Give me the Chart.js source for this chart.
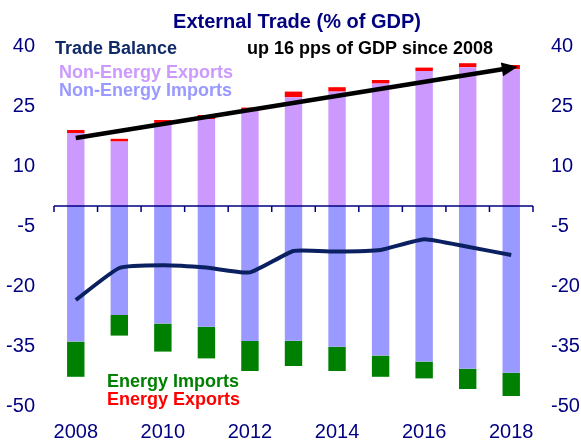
<!DOCTYPE html>
<html><head><meta charset="utf-8">
<script src="https://cdn.jsdelivr.net/npm/chart.js@4/dist/chart.umd.min.js"></script>
<style>html,body{margin:0;padding:0;background:#fff}#wrap{width:581px;height:442px}</style>
</head><body><div id="wrap"><canvas id="c" width="581" height="442"></canvas></div>
<script>
const years = ['2008','2009','2010','2011','2012','2013','2014','2015','2016','2017','2018'];
const labelledYears = ['2008','2010','2012','2014','2016','2018'];
const nonEnergyExports = [18.25, 16.1, 20.5, 21.75, 23.75, 27.2, 28.6, 30.6, 33.75, 34.7, 34.2];
const energyExports    = [0.75, 0.7, 1.0, 1.0, 0.85, 1.4, 1.1, 0.9, 0.85, 1.0, 1.05];
const nonEnergyImports = [-33.9, -27.25, -29.4, -30.2, -33.75, -33.7, -35.2, -37.4, -38.9, -40.7, -41.7];
const energyImports    = [-8.8, -5.15, -7.0, -7.9, -7.5, -6.3, -6.05, -5.3, -4.2, -5.05, -5.8];
const tradeBalance     = [-23.5, -15.5, -14.8, -15.4, -16.6, -11.25, -11.4, -11.0, -8.3, -10.2, -12.25];
const yTicks = [40, 25, 10, -5, -20, -35, -50];
const arrowFrom = [0, 17];
const arrowTo = [10.15, 34.8];

const FONT = '"Liberation Sans", Arial, sans-serif';
const NAVY = '#000080';

const overlay = {
  id: 'overlay',
  afterDatasetsDraw(chart) {
    const ctx = chart.ctx, x = chart.scales.x, y = chart.scales.y, a = chart.chartArea;
    ctx.save();
    // zero axis line with boundary ticks
    const y0 = y.getPixelForValue(0);
    ctx.strokeStyle = NAVY; ctx.lineWidth = 1.5;
    ctx.beginPath(); ctx.moveTo(a.left, y0); ctx.lineTo(a.right, y0); ctx.stroke();
    for (let i = 0; i <= years.length; i++) {
      const px = x.getPixelForValue(i - 0.5);
      ctx.beginPath(); ctx.moveTo(px, y0); ctx.lineTo(px, y0 + 6); ctx.stroke();
    }
    // arrow
    const x1 = x.getPixelForValue(arrowFrom[0]), y1 = y.getPixelForValue(arrowFrom[1]);
    const x2 = x.getPixelForValue(arrowTo[0]), y2 = y.getPixelForValue(arrowTo[1]);
    const ang = Math.atan2(y2 - y1, x2 - x1);
    const hl = 16, hw = 7;
    const bx = x2 - hl * Math.cos(ang), by = y2 - hl * Math.sin(ang);
    ctx.strokeStyle = '#000'; ctx.lineWidth = 4.5; ctx.lineCap = 'butt';
    ctx.beginPath(); ctx.moveTo(x1, y1); ctx.lineTo(bx + 2 * Math.cos(ang), by + 2 * Math.sin(ang)); ctx.stroke();
    ctx.fillStyle = '#000';
    ctx.beginPath();
    ctx.moveTo(x2, y2);
    ctx.lineTo(bx + hw * Math.sin(ang), by - hw * Math.cos(ang));
    ctx.lineTo(bx - hw * Math.sin(ang), by + hw * Math.cos(ang));
    ctx.closePath(); ctx.fill();
    // texts
    ctx.textBaseline = 'alphabetic';
    ctx.textAlign = 'center';
    ctx.font = 'bold 20px ' + FONT; ctx.fillStyle = NAVY;
    ctx.fillText('External Trade (% of GDP)', 297, 28);
    ctx.textAlign = 'left';
    ctx.font = 'bold 18px ' + FONT;
    ctx.fillStyle = '#0f2a66'; ctx.fillText('Trade Balance', 55, 54);
    ctx.fillStyle = '#000'; ctx.fillText('up 16 pps of GDP since 2008', 247, 54);
    ctx.fillStyle = '#CC99FF'; ctx.fillText('Non-Energy Exports', 59, 78);
    ctx.fillStyle = '#9999FF'; ctx.fillText('Non-Energy Imports', 59, 96);
    ctx.fillStyle = '#008000'; ctx.fillText('Energy Imports', 107, 387);
    ctx.fillStyle = '#FF0000'; ctx.fillText('Energy Exports', 107, 405);
    ctx.restore();
  }
};

const yAxisCommon = {
  min: -50, max: 40,
  afterBuildTicks: s => { s.ticks = yTicks.map(v => ({ value: v })); },
  grid: { display: false, drawTicks: false },
  border: { display: false },
  ticks: { color: NAVY, font: { family: FONT, size: 20 } }
};

new Chart(document.getElementById('c'), {
  data: {
    labels: years,
    datasets: [
      { type: 'line', label: 'Trade Balance', data: tradeBalance, borderColor: '#0a2060', borderWidth: 4,
        pointRadius: 0, tension: 0.15, stack: 'tb', order: -1, yAxisID: 'y' },
      { type: 'bar', label: 'Non-Energy Exports', data: nonEnergyExports, backgroundColor: '#CC99FF', stack: 'a', yAxisID: 'y' },
      { type: 'bar', label: 'Non-Energy Imports', data: nonEnergyImports, backgroundColor: '#9999FF', stack: 'a', yAxisID: 'y' },
      { type: 'bar', label: 'Energy Exports', data: energyExports, backgroundColor: '#FF0000', stack: 'a', yAxisID: 'y' },
      { type: 'bar', label: 'Energy Imports', data: energyImports, backgroundColor: '#008000', stack: 'a', yAxisID: 'y' }
    ]
  },
  options: {
    responsive: false, animation: false, devicePixelRatio: 1,
    layout: { padding: { top: 46, left: 0, right: 0, bottom: 0 } },
    datasets: { bar: { barPercentage: 0.4, categoryPercentage: 1 } },
    plugins: { legend: { display: false }, tooltip: { enabled: false }, title: { display: false } },
    scales: {
      x: {
        stacked: true,
        grid: { display: false, drawTicks: false },
        border: { display: false },
        afterFit: s => { s.height = 36; },
        ticks: {
          autoSkip: false, maxRotation: 0, padding: 14, color: NAVY, font: { family: FONT, size: 20 },
          callback: (v, i) => labelledYears.includes(years[i]) ? years[i] : ''
        }
      },
      y: Object.assign({}, yAxisCommon, { position: 'left', stacked: true,
        afterFit: s => { s.width = 54; }, ticks: Object.assign({}, yAxisCommon.ticks, { padding: 19 }) }),
      y2: Object.assign({}, yAxisCommon, { position: 'right',
        afterFit: s => { s.width = 48; }, ticks: Object.assign({}, yAxisCommon.ticks, { padding: 18 }) })
    }
  },
  plugins: [overlay]
});
</script></body></html>
